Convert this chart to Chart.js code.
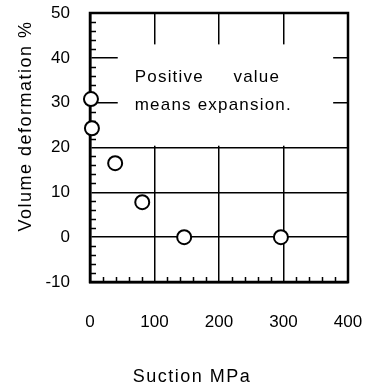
<!DOCTYPE html>
<html>
<head>
<meta charset="utf-8">
<script src="https://cdn.jsdelivr.net/npm/chart.js@4"></script>
<style>
  html, body { margin: 0; padding: 0; background: #fff; }
</style>
</head>
<body>
<canvas id="chart" width="366" height="391"></canvas>
<script>
// data
const suction = [1.5, 3, 39, 81, 146, 296];        // MPa
const deformation = [30.8, 24.3, 16.5, 7.8, 0, 0]; // %
const xTitle = 'Suction MPa';
const yTitle = 'Volume deformation %';
const noteLines = ['Positive     value', 'means expansion.'];

const FONT = '"Liberation Sans", Arial, sans-serif';
Chart.defaults.font.family = FONT;
Chart.defaults.color = '#000';

// white note box, minor ticks, frame and axis titles
const framePlugin = {
  id: 'frame',
  beforeDatasetsDraw(chart) {
    const ctx = chart.ctx;
    const a = chart.chartArea;
    const x = chart.scales.x, y = chart.scales.y;
    ctx.save();

    // box that hides the grid behind the note
    const bx1 = x.getPixelForValue(43), bx2 = x.getPixelForValue(377);
    const by1 = y.getPixelForValue(43), by2 = y.getPixelForValue(20.4);
    ctx.fillStyle = '#fff';
    ctx.fillRect(bx1, by1, bx2 - bx1, by2 - by1);

    ctx.fillStyle = '#000';
    ctx.font = '17px ' + FONT;
    ctx.letterSpacing = '1.2px';
    ctx.textAlign = 'left';
    ctx.textBaseline = 'alphabetic';
    ctx.fillText(noteLines[0], bx1 + 17, by1 + 38);
    ctx.fillText(noteLines[1], bx1 + 17, by1 + 66);

    // minor ticks pointing inwards
    ctx.strokeStyle = '#000';
    ctx.lineWidth = 1.5;
    ctx.beginPath();
    y.ticks.forEach(t => {
      if (t.value % 10 === 0) return;
      const py = Math.round(y.getPixelForValue(t.value)) + 0.5;
      ctx.moveTo(a.left, py);
      ctx.lineTo(a.left + 6, py);
    });
    x.ticks.forEach(t => {
      if (t.value % 100 === 0) return;
      const px = Math.round(x.getPixelForValue(t.value)) + 0.5;
      ctx.moveTo(px, a.bottom);
      ctx.lineTo(px, a.bottom - 5);
    });
    ctx.stroke();

    // frame
    ctx.lineWidth = 2.5;
    ctx.strokeRect(a.left, a.top, a.right - a.left, a.bottom - a.top);

    // axis titles
    ctx.font = '18px ' + FONT;
    ctx.letterSpacing = '1.5px';
    ctx.textAlign = 'center';
    ctx.textBaseline = 'middle';
    ctx.fillText(xTitle, 192, 377);
    ctx.translate(26, 126);
    ctx.rotate(-Math.PI / 2);
    ctx.fillText(yTitle, 0, 0);
    ctx.restore();
  }
};

// fixed axis sizes, no extra room for edge labels
function fixX(s) {
  s.height = 109;
  s.paddingLeft = 0; s.paddingRight = 0;
}
function fixY(s) {
  s.width = 90;
  s.paddingTop = 0; s.paddingBottom = 0;
}

const ctx = document.getElementById('chart').getContext('2d');
const chart = new Chart(ctx, {
  type: 'scatter',
  data: {
    datasets: [{
      data: suction.map((v, i) => ({ x: v, y: deformation[i] })),
      pointRadius: 7,
      pointHoverRadius: 7,
      pointBorderWidth: 2,
      pointBackgroundColor: '#fff',
      pointBorderColor: '#000',
      clip: false
    }]
  },
  options: {
    responsive: false,
    devicePixelRatio: 1,
    animation: false,
    layout: { padding: { top: 13, right: 18, left: 0, bottom: 0 } },
    plugins: {
      legend: { display: false },
      tooltip: { enabled: false }
    },
    scales: {
      x: {
        type: 'linear',
        min: 0,
        max: 400,
        afterFit: fixX,
        ticks: {
          stepSize: 20,
          autoSkip: false,
          maxRotation: 0,
          padding: 30,
          font: { size: 17 },
          callback: v => (v % 100 === 0 ? v : '')
        },
        grid: {
          color: c => (c.tick && c.tick.value % 100 === 0 ? '#000' : 'rgba(0,0,0,0)'),
          lineWidth: 1.5,
          drawTicks: false
        },
        border: { color: '#000', width: 2.5 }
      },
      y: {
        min: -10,
        max: 50,
        afterFit: fixY,
        ticks: {
          stepSize: 2,
          autoSkip: false,
          padding: 20,
          font: { size: 17 },
          callback: v => (v % 10 === 0 ? v : '')
        },
        grid: {
          color: c => (c.tick && c.tick.value % 10 === 0 ? '#000' : 'rgba(0,0,0,0)'),
          lineWidth: 1.5,
          drawTicks: false
        },
        border: { color: '#000', width: 2.5 }
      }
    }
  },
  plugins: [framePlugin]
});
</script>
</body>
</html>
